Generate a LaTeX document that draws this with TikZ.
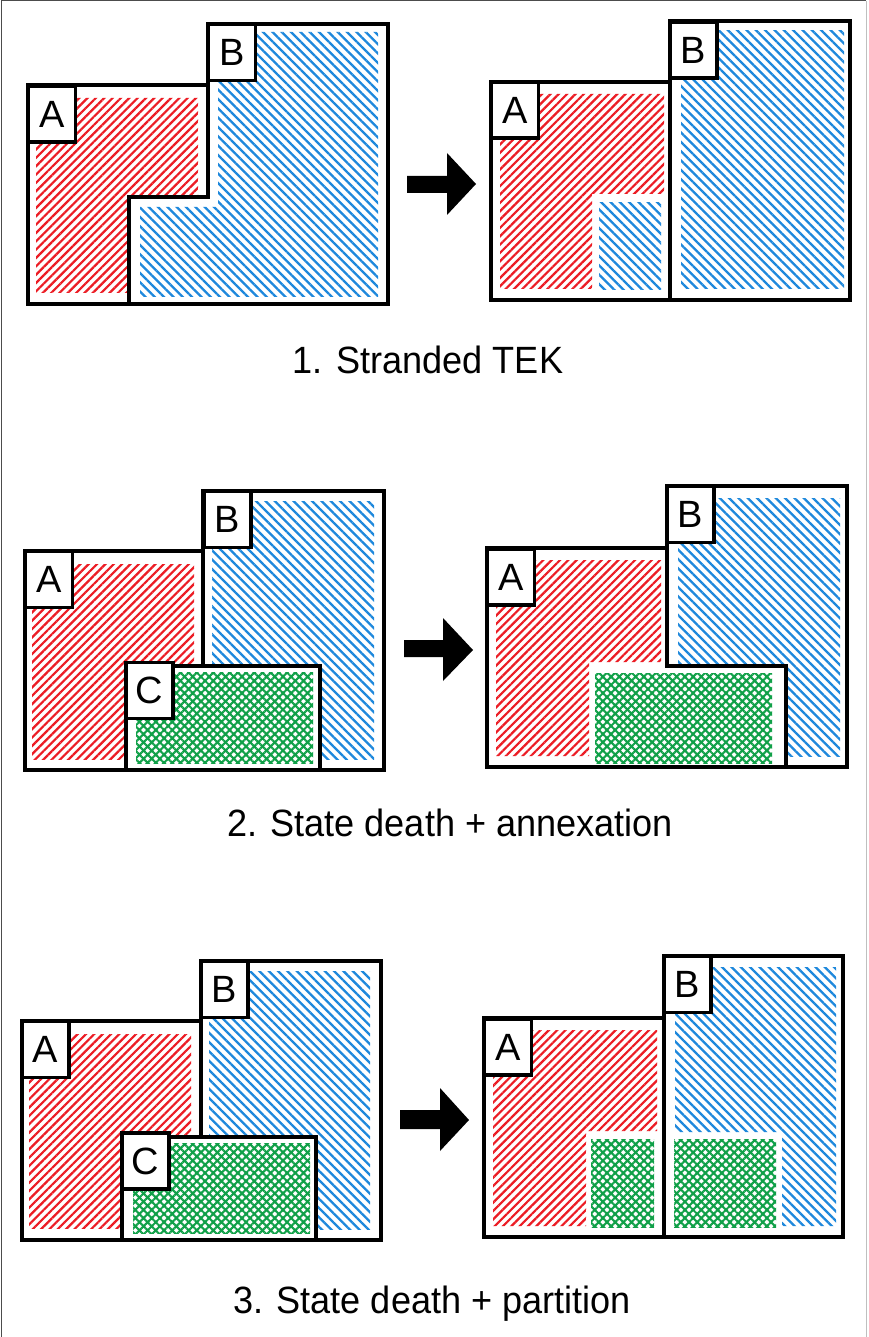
\documentclass[tikz,border=0pt]{standalone}
\usepackage{fontspec}
\setmainfont{Liberation Sans}
\usetikzlibrary{patterns.meta}
\definecolor{hred}{RGB}{236,28,36}
\definecolor{hblue}{RGB}{30,136,220}
\definecolor{hgreen}{RGB}{16,160,72}
\tikzset{
 redh/.style={pattern={Lines[angle=45,distance=5.9pt,line width=2.2pt]}, pattern color=hred},
 blueh/.style={pattern={Lines[angle=-45,distance=6.6pt,line width=2.3pt]}, pattern color=hblue},
 greenh/.style={pattern={Hatch[angle=45,distance=5.8pt,line width=2.1pt]}, pattern color=hgreen},
 border/.style={draw=black, line width=3.5pt, line join=miter},
 lab/.style={draw=black, fill=white, line width=3.5pt, inner sep=0pt, minimum width=47pt, minimum height=56pt, font=\fontsize{38}{38}\selectfont},
 captext/.style={anchor=base, font=\fontsize{38}{42}\selectfont},
 arr/.style={fill=black}
}
\newcommand{\narrowtxt}[1]{\scalebox{0.95}[1]{#1}}
\begin{document}
\begin{tikzpicture}[x=1pt,y=-1pt]
\useasboundingbox (0,0) rectangle (868,1337);
\fill[white] (0,0) rectangle (868,1337);
\draw[line width=1pt, draw=black!70] (1,1337) -- (1,1) -- (866,1);
\draw[line width=1pt, draw=black!25] (866,1) -- (866,1337);

% ---------- Panel 1 left
\fill[redh] (36,98) -- (198,98) -- (198,197) -- (129,197) -- (129,293) -- (36,293) -- cycle;
\fill[blueh] (218,32) -- (378,32) -- (378,297) -- (140,297) -- (140,207) -- (218,207) -- cycle;
\draw[border] (28,85) -- (208,85) -- (208,197) -- (129,197) -- (129,304) -- (28,304) -- cycle;
\draw[border] (208,24) -- (388,24) -- (388,304) -- (129,304) -- (129,197) -- (208,197) -- cycle;
\node[lab] (a1l) at (52,114) {A};
\node[lab] (b1l) at (232,52.5) {B};

\fill[arr] (407,176) -- (447,176) -- (447,153) -- (476,184) -- (447,215) -- (447,193) -- (407,193) -- cycle;

% ---------- Panel 1 right
\fill[redh] (500,94) -- (664,94) -- (664,194) -- (592,194) -- (592,289) -- (500,289) -- cycle;
\fill[blueh] (599,203) rectangle (661,290);
\fill[blueh] (681,31) rectangle (844,289);
\draw[border] (491,82) rectangle (670,300);
\draw[border] (670,21) rectangle (850,300);
\node[lab] (a1r) at (515,110) {A};
\node[lab] (b1r) at (693.5,50) {B};

\node[captext] (cap1) at (428,373) {\narrowtxt{1. Stranded TEK}};

% ---------- Panel 2 left
\fill[redh] (32,564) rectangle (194,759);
\fill[blueh] (212,501) rectangle (374,759);
\draw[border] (25,551) rectangle (203,770);
\draw[border] (203,491) rectangle (384,770);
\filldraw[border, fill=white] (126,666) rectangle (320,770);
\fill[greenh] (136,672) rectangle (313,763);
\node[lab] (a2l) at (49,579.5) {A};
\node[lab] (b2l) at (227.5,519.5) {B};
\node[lab] (c2l) at (149.5,690.5) {C};

\fill[arr] (404,640) -- (443,640) -- (443,618) -- (473,650) -- (443,681) -- (443,657) -- (404,657) -- cycle;

% ---------- Panel 2 right
\fill[blueh] (678,498) rectangle (840,756);
\draw[border] (667,486) rectangle (847,767);
\filldraw[border, fill=white] (487,548) -- (667,548) -- (667,666) -- (786,666) -- (786,767) -- (487,767) -- cycle;
\fill[redh] (496,560) -- (661,560) -- (661,662) -- (589,662) -- (589,756) -- (496,756) -- cycle;
\fill[greenh] (595,673) rectangle (772,763);
\node[lab] (a2r) at (511,577) {A};
\node[lab] (b2r) at (690.5,514.5) {B};

\node[captext] (cap2) at (450,836) {\narrowtxt{2. State death + annexation}};

% ---------- Panel 3 left
\fill[redh] (29,1034) rectangle (191,1228);
\fill[blueh] (209,971) rectangle (370,1229);
\draw[border] (22,1021) rectangle (201,1240);
\draw[border] (201,961) rectangle (381,1240);
\filldraw[border, fill=white] (122,1137) rectangle (316,1240);
\fill[greenh] (133,1143) rectangle (310,1233);
\node[lab] (a3l) at (45.5,1049.5) {A};
\node[lab] (b3l) at (224.5,989.5) {B};
\node[lab] (c3l) at (145.5,1161) {C};

\fill[arr] (400,1110) -- (440,1110) -- (440,1088) -- (469,1120) -- (440,1151) -- (440,1129) -- (400,1129) -- cycle;

% ---------- Panel 3 right
\fill[redh] (493,1030) -- (657,1030) -- (657,1131) -- (586,1131) -- (586,1226) -- (493,1226) -- cycle;
\fill[greenh] (591,1139) rectangle (654,1227);
\fill[blueh] (675,967) -- (836,967) -- (836,1226) -- (782,1226) -- (782,1132) -- (675,1132) -- cycle;
\fill[greenh] (674,1139) rectangle (776,1227);
\draw[border] (484,1018) rectangle (664,1237);
\draw[border] (664,956) rectangle (843,1237);
\node[lab] (a3r) at (508,1047) {A};
\node[lab] (b3r) at (687.5,984.5) {B};

\node[captext] (cap3) at (432,1313) {\narrowtxt{3. State death + partition}};
\end{tikzpicture}
\end{document}
